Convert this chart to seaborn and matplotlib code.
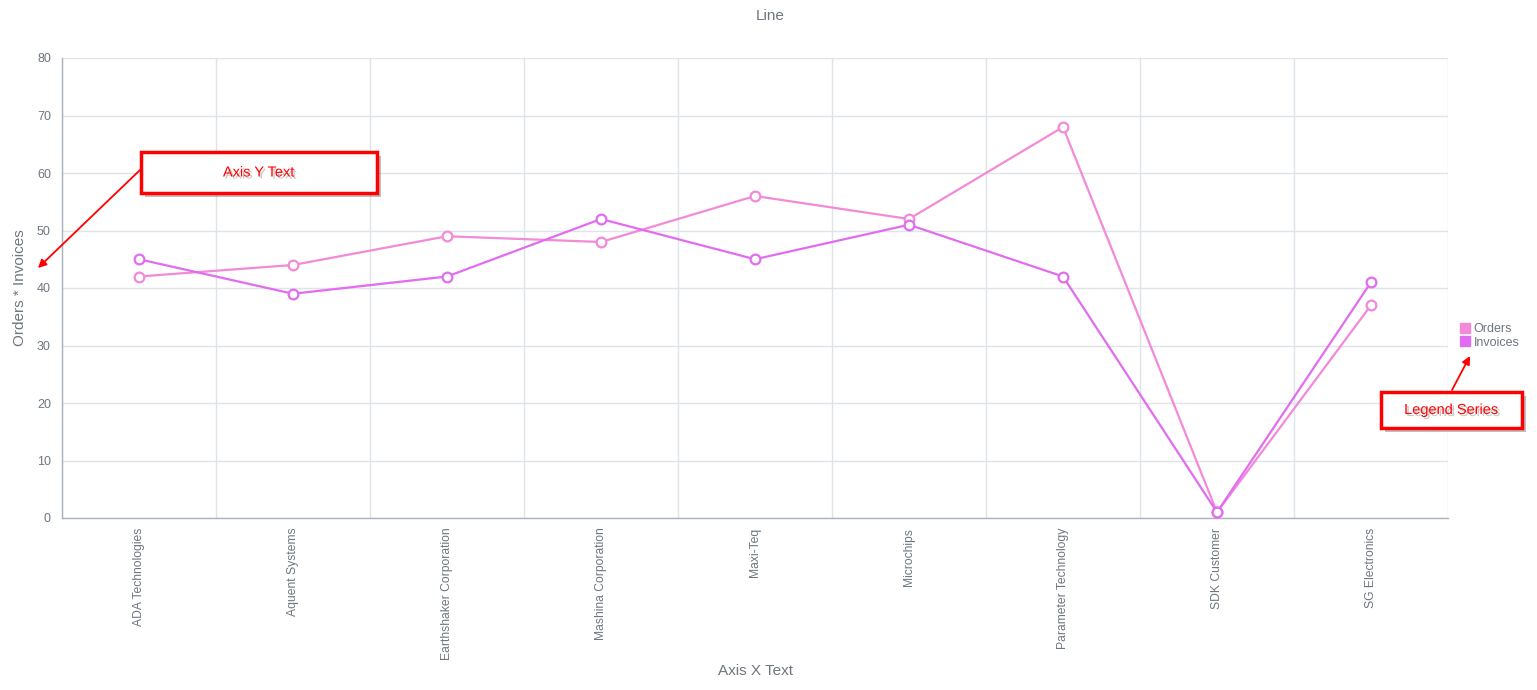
import pandas as pd
import matplotlib
matplotlib.use("Agg")
import matplotlib.pyplot as plt
import matplotlib.patheffects as pe
from matplotlib.lines import Line2D
from matplotlib.patches import Rectangle
import seaborn as sns

customers = ["ADA Technologies", "Aquent Systems", "Earthshaker Corporation",
             "Mashina Corporation", "Maxi-Teq", "Microchips",
             "Parameter Technology", "SDK Customer", "SG Electronics"]
orders = [42, 44, 49, 48, 56, 52, 68, 1, 37]
invoices = [45, 39, 42, 52, 45, 51, 42, 1, 41]
series_names = ["Orders", "Invoices"]
series_colors = ["#f28ad8", "#e26cf0"]

df = pd.DataFrame({"customer": customers, "Orders": orders, "Invoices": invoices})
df["pos"] = range(len(customers))

sns.set_theme(style="white")
plt.rcParams['font.family'] = ['Arial', 'Liberation Sans', 'DejaVu Sans']

W, H = 1537, 690
fig = plt.figure(figsize=(W / 100, H / 100), dpi=100)
ax = fig.add_axes([62 / W, 1 - 518 / H, (1448 - 62) / W, (518 - 58) / H])

grid_c = "#dfe3ea"
text_c = "#6f7680"
axis_c = "#aab2bd"

for name, col in zip(series_names, series_colors):
    sns.lineplot(data=df, x="pos", y=name, ax=ax, color=col, linewidth=1.6,
                 marker="o", markersize=7, markerfacecolor="white",
                 markeredgecolor=col, markeredgewidth=1.6, zorder=3)

n = len(customers)
ax.set_xlim(-0.5, n - 0.5)
ax.set_ylim(0, 80)
ax.set_yticks(range(0, 81, 10))
ax.set_xticks(range(n))
ax.set_xticklabels(customers, rotation=90, va="top", ha="center")
ax.set_xticks([i - 0.5 for i in range(n + 1)], minor=True)
ax.tick_params(axis="x", which="major", length=0, pad=7, labelsize=8.7, labelcolor=text_c)
ax.tick_params(axis="x", which="minor", length=5, color=axis_c, width=1)
ax.tick_params(axis="y", length=5, color=axis_c, labelsize=9, labelcolor=text_c, pad=3)
ax.grid(True, axis="y", color=grid_c, linewidth=1)
ax.grid(True, axis="x", which="minor", color=grid_c, linewidth=1)
ax.set_axisbelow(True)
for s in ["top", "right"]:
    ax.spines[s].set_visible(False)
for s in ["left", "bottom"]:
    ax.spines[s].set_color(axis_c)
    ax.spines[s].set_linewidth(1)

ax.set_xlabel("Axis X Text", fontsize=11, color=text_c, labelpad=0)
ax.xaxis.set_label_coords(0.5, (518 - 671) / (518 - 58), transform=ax.transAxes)
ax.set_ylabel("Orders * Invoices", fontsize=11, color=text_c)
ax.yaxis.set_label_coords((20 - 62) / (1448 - 62), 0.5)
ax.xaxis.label.set_va("center")
ax.yaxis.label.set_va("center")
fig.text(770 / W, 1 - 16 / H, "Line", ha="center", va="center", fontsize=11, color=text_c)

handles = [Line2D([], [], linestyle="none", marker="s", markersize=7,
                  markerfacecolor=c, markeredgecolor=c) for c in series_colors]
leg = fig.legend(handles, series_names, loc="center left",
                 bbox_to_anchor=(1455 / W, 1 - 336 / H), frameon=False,
                 fontsize=9, handlelength=0.8, handletextpad=0.3,
                 labelspacing=0.1, borderaxespad=0)
for t in leg.get_texts():
    t.set_color(text_c)

shadow = [pe.withSimplePatchShadow(offset=(3, -3), shadow_rgbFace="black", alpha=0.25)]


def callout(x0, y0, x1, y1, label, start, end):
    rect = Rectangle((x0 / W, 1 - y1 / H), (x1 - x0) / W, (y1 - y0) / H,
                     transform=fig.transFigure, facecolor="white",
                     edgecolor="#ff0000", linewidth=2.5, zorder=10,
                     path_effects=shadow)
    fig.add_artist(rect)
    fig.text((x0 + x1) / 2 / W, 1 - (y0 + y1) / 2 / H, label, ha="center",
             va="center", fontsize=10.5, color="#ff0000", zorder=11,
             path_effects=[pe.withSimplePatchShadow(offset=(1.5, -1.5),
                                                    shadow_rgbFace="gray", alpha=0.45)])
    ax.annotate("", xy=(end[0] / W, 1 - end[1] / H), xycoords="figure fraction",
                xytext=(start[0] / W, 1 - start[1] / H), textcoords="figure fraction",
                arrowprops=dict(arrowstyle="-|>", color="#ff0000", lw=1.3,
                                mutation_scale=12, shrinkA=0, shrinkB=0),
                zorder=10, annotation_clip=False)


callout(141, 152, 377, 193, "Axis Y Text", (140, 170), (38, 268))
callout(1381, 392, 1522, 428, "Legend Series", (1452, 390), (1470, 356))

fig.savefig("out.png", dpi=100)
